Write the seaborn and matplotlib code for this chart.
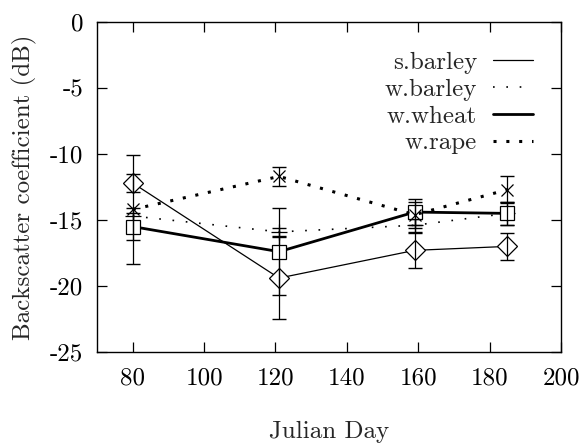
import matplotlib
matplotlib.use("Agg")
import matplotlib.pyplot as plt
from matplotlib.lines import Line2D
import seaborn as sns
import pandas as pd

# Julian days of the four acquisitions
days = [80, 121, 159, 185]

# mean backscatter (dB) per crop and its error half-width
s_barley = [-12.2, -19.4, -17.3, -17.0]
s_barley_err = [0.7, 3.1, 1.3, 1.0]
w_barley = [-14.7, -15.9, -15.4, -14.5]
w_barley_err = [0.6, 0.3, 0.5, 0.9]
w_wheat = [-15.5, -17.4, -14.4, -14.5]
w_wheat_err = [1.0, 3.3, 1.0, 0.9]
w_rape = [-14.2, -11.7, -14.6, -12.7]
w_rape_err = [4.1, 0.7, 1.0, 1.0]

labels = ["s.barley", "w.barley", "w.wheat", "w.rape"]
xticks = [80, 100, 120, 140, 160, 180, 200]
yticks = [0, -5, -10, -15, -20, -25]

sns.set_theme(style="ticks")
plt.rcParams["font.family"] = ["cmr10", "DejaVu Serif"]
plt.rcParams["axes.unicode_minus"] = False
plt.rcParams["mathtext.fontset"] = "cm"

FS = 18

series = [
    (s_barley, s_barley_err, dict(lw=0.9, linestyle="-", marker="D", ms=10)),
    (w_barley, w_barley_err, dict(lw=1.2, linestyle=(0, (1, 7)), marker="+", ms=11)),
    (w_wheat, w_wheat_err, dict(lw=2.0, linestyle="-", marker="s", ms=10)),
    (w_rape, w_rape_err, dict(lw=2.2, linestyle=(0, (1, 3.2)), marker="x", ms=9)),
]

fig = plt.figure(figsize=(5.81, 4.45), dpi=100)
ax = fig.add_axes([0.167, 0.209, 0.7986, 0.7416])

for (vals, errs, st), lab in zip(series, labels):
    df = pd.DataFrame({"day": days, "sigma": vals})
    sns.lineplot(data=df, x="day", y="sigma", ax=ax, color="black",
                 lw=st["lw"], linestyle=st["linestyle"], marker=st["marker"],
                 markersize=st["ms"], markerfacecolor="white",
                 markeredgecolor="black", markeredgewidth=0.9, label=None)
    ax.errorbar(days, vals, yerr=errs, fmt="none", ecolor="black",
                elinewidth=0.9, capsize=5, capthick=1.0)

ax.set_xlim(70, 200)
ax.set_ylim(-25, 0)
ax.set_xticks(xticks)
ax.set_yticks(yticks)
ax.set_xticklabels([str(t) for t in xticks])
ax.set_yticklabels([str(t) for t in yticks])
ax.tick_params(direction="in", length=7, width=0.9, top=True, right=True,
               labelsize=FS, colors="black")
ax.tick_params(axis="x", pad=11)
ax.tick_params(axis="y", pad=10)
for sp in ax.spines.values():
    sp.set_visible(True)
    sp.set_linewidth(1.0)
    sp.set_color("black")

ax.set_xlabel("Julian Day", fontsize=FS, labelpad=23)
ax.set_ylabel("Backscatter coefficient (dB)", fontsize=FS, labelpad=9)

handles = [Line2D([], [], color="black", lw=st["lw"], linestyle=st["linestyle"])
           for _, _, st in series]
leg = ax.legend(handles, labels, loc="upper right", frameon=False,
                markerfirst=False, fontsize=FS, handlelength=1.6,
                labelspacing=0.17, handletextpad=0.65, borderpad=0,
                borderaxespad=0, bbox_to_anchor=(0.94, 0.91))

fig.savefig("out.png", dpi=100, facecolor="white")
